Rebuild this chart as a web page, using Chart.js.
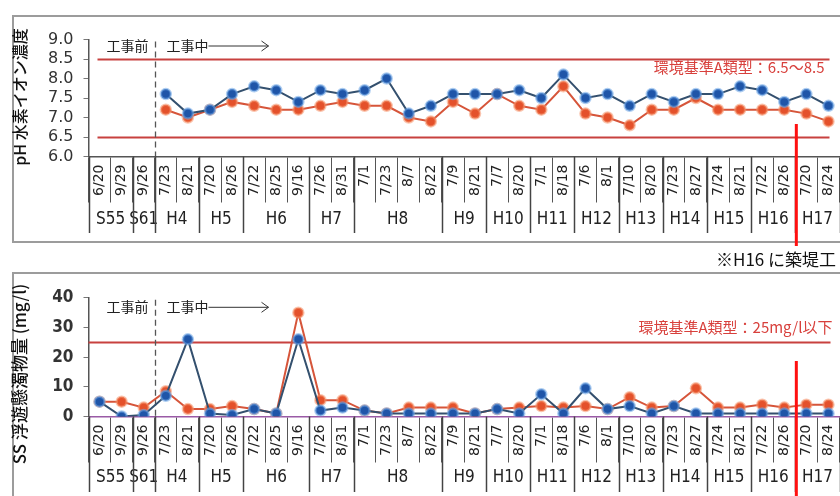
<!DOCTYPE html>
<html lang="ja">
<head>
<meta charset="utf-8">
<title>水質調査結果</title>
<script src="https://cdn.jsdelivr.net/npm/chart.js@4.4.1/dist/chart.umd.min.js"></script>
<style>
  html, body { margin: 0; padding: 0; background: #fff; width: 840px; height: 496px; overflow: hidden; }
  #wrap { position: relative; width: 840px; height: 496px; overflow: hidden; }
  .frame { position: absolute; border: 2px solid #9c9c9c; box-sizing: border-box; }
  canvas { position: absolute; left: 0; }
  #note { position: absolute; left: 716px; top: 246px; font: 17px "Noto Sans CJK JP", sans-serif; color: #111; white-space: nowrap; }
</style>
</head>
<body>
<div id="wrap">
  <div class="frame" style="left:12px; top:15px; width:860px; height:228px;"></div>
  <div class="frame" style="left:12px; top:272px; width:860px; height:260px;"></div>
  <canvas id="phChart" width="847" height="246" style="top:0px;"></canvas>
  <canvas id="ssChart" width="847" height="238" style="top:258px;"></canvas>
  <div id="note">※H16 に築堤工</div>
</div>
<script>
// Survey dates (one category per survey)
const dates = ['6/20','9/29','9/26','7/23','8/21','7/20','8/26','7/22','8/25','9/16',
               '7/26','8/31','7/1','7/23','8/7','8/22','7/9','8/21','7/7','8/20',
               '7/1','8/18','7/6','8/1','7/10','8/20','7/23','8/27','7/24','8/21',
               '7/22','8/26','7/20','8/24'];
// Survey years and how many surveys each one holds
const eraLabels = ['S55','S61','H4','H5','H6','H7','H8','H9','H10','H11','H12','H13','H14','H15','H16','H17'];
const eraSpans  = [2, 1, 2, 2, 3, 2, 4, 2, 2, 2, 2, 2, 2, 2, 2, 2];

// pH (blue / red series)
const phBlue = [null, null, null, 7.6, 7.1, 7.2, 7.6, 7.8, 7.7, 7.4,
                7.7, 7.6, 7.7, 8.0, 7.1, 7.3, 7.6, 7.6, 7.6, 7.7,
                7.5, 8.1, 7.5, 7.6, 7.3, 7.6, 7.4, 7.6, 7.6, 7.8,
                7.7, 7.4, 7.6, 7.3];
const phRed  = [null, null, null, 7.2, 7.0, 7.2, 7.4, 7.3, 7.2, 7.2,
                7.3, 7.4, 7.3, 7.3, 7.0, 6.9, 7.4, 7.1, 7.6, 7.3,
                7.2, 7.8, 7.1, 7.0, 6.8, 7.2, 7.2, 7.5, 7.2, 7.2,
                7.2, 7.2, 7.1, 6.9];

// SS suspended solids, mg/l (blue / red series)
const ssBlue = [5, 0, 0.5, 7, 26, 1, 0.5, 2.5, 1, 26,
                2, 3, 2, 1, 1, 1, 1, 1, 2.5, 1,
                7.5, 1, 9.5, 2.5, 3.5, 1, 3.5, 1, 1, 1,
                1, 1, 1, 1];
const ssRed  = [5, 5, 3, 8.5, 2.5, 2.5, 3.5, 2.5, 1, 35,
                5.5, 5.5, 2, 1, 3, 3, 3, 1, 2.5, 3,
                3.5, 3, 3.5, 2.5, 6.5, 3, 3.5, 9.5, 3, 3,
                4, 3, 4, 4];

// Environmental standard (class A)
const phStandard = [6.5, 8.5];
const ssStandard = [25];
const phStandardText = '環境基準A類型：6.5～8.5';
const ssStandardText = '環境基準A類型：25mg/l以下';

// Axis ranges
const phAxis = { min: 6, max: 9, step: 0.5 };
const ssAxis = { min: 0, max: 40, step: 10 };

// Index of first survey after construction began, and first survey after the embankment work
const workStartIndex = 3;
const embankmentIndex = 32;

const NARROW = '"Liberation Sans Narrow", "DejaVu Sans Condensed", "Liberation Sans", sans-serif';
const JP = '"Noto Sans CJK JP", sans-serif';
const VIEW_RIGHT = 840; // visible page width

// left edge of category i, from the category scale
function edgeX(xs, i) {
  const w = xs.getPixelForValue(1) - xs.getPixelForValue(0);
  return xs.getPixelForValue(i) - w / 2;
}

function panelPlugin(p) {
  return {
    id: 'panel_' + p.id,
    beforeDatasetsDraw(chart) {
      const ctx = chart.ctx, xs = chart.scales.x, ys = chart.scales.y, area = chart.chartArea;
      const right = Math.min(area.right, VIEW_RIGHT);
      ctx.save();
      // standard lines
      ctx.strokeStyle = '#c8413f';
      ctx.lineWidth = 2;
      p.standard.forEach(v => {
        const y = Math.round(ys.getPixelForValue(v)) + 0.5;
        ctx.beginPath();
        ctx.moveTo(area.left + p.stdInsetL, y);
        ctx.lineTo(right - p.stdInsetR, y);
        ctx.stroke();
      });
      // standard caption
      ctx.fillStyle = '#d8403c';
      ctx.font = '15px ' + JP;
      ctx.textAlign = 'right';
      ctx.textBaseline = 'middle';
      ctx.fillText(p.stdText, right - p.stdTextInset, ys.getPixelForValue(p.stdTextAt) + p.stdTextDy);

      // before / during construction divider
      const dx = Math.round(edgeX(xs, workStartIndex)) + 0.5;
      ctx.strokeStyle = '#555';
      ctx.lineWidth = 1.3;
      ctx.setLineDash([6, 4]);
      ctx.beginPath();
      ctx.moveTo(dx, area.top + 2);
      ctx.lineTo(dx, area.bottom);
      ctx.stroke();
      ctx.setLineDash([]);

      const ty = area.top + p.workTextDy;
      ctx.fillStyle = '#222';
      ctx.font = '14px ' + JP;
      ctx.textAlign = 'right';
      ctx.fillText('工事前', dx - 7, ty);
      ctx.textAlign = 'left';
      ctx.fillText('工事中', dx + 11, ty);
      const tw = ctx.measureText('工事中').width;
      const ax0 = dx + 11 + tw, ax1 = dx + 113;
      ctx.strokeStyle = '#333';
      ctx.lineWidth = 1;
      ctx.beginPath();
      ctx.moveTo(ax0, ty + 0.5);
      ctx.lineTo(ax1, ty + 0.5);
      ctx.moveTo(ax1 - 7, ty - 4.5);
      ctx.lineTo(ax1, ty + 0.5);
      ctx.lineTo(ax1 - 7, ty + 5.5);
      ctx.stroke();
      ctx.restore();
    },
    afterDraw(chart) {
      const ctx = chart.ctx, xs = chart.scales.x, area = chart.chartArea;
      ctx.save();
      // survey-year separators and labels
      ctx.strokeStyle = '#444';
      ctx.lineWidth = 1.5;
      ctx.fillStyle = '#222';
      ctx.font = '17px ' + NARROW;
      ctx.textAlign = 'center';
      ctx.textBaseline = 'middle';
      let start = 0;
      const edges = [0];
      eraSpans.forEach((n, k) => {
        const x0 = edgeX(xs, start), x1 = edgeX(xs, start + n);
        ctx.fillText(eraLabels[k], (x0 + x1) / 2, p.eraLabelY);
        start += n;
        edges.push(start);
      });
      edges.forEach(i => {
        const x = Math.round(edgeX(xs, i)) + 0.5;
        ctx.beginPath();
        ctx.moveTo(x, area.bottom);
        ctx.lineTo(x, p.eraLineEnd);
        ctx.stroke();
      });

      // y-axis title
      ctx.save();
      ctx.translate(p.titleX, p.titleY);
      ctx.rotate(-Math.PI / 2);
      ctx.fillStyle = '#111';
      ctx.font = '500 ' + p.titleSize + 'px ' + JP;
      ctx.textAlign = 'center';
      ctx.textBaseline = 'middle';
      ctx.fillText(p.title, 0, 0);
      ctx.restore();

      // embankment marker
      const mx = edgeX(xs, embankmentIndex) + 1;
      ctx.strokeStyle = '#ff1010';
      ctx.lineWidth = 3;
      ctx.beginPath();
      ctx.moveTo(mx, p.markTop);
      ctx.lineTo(mx, chart.height);
      ctx.stroke();
      ctx.restore();
    }
  };
}

function makeChart(p) {
  return new Chart(document.getElementById(p.id), {
    type: 'line',
    data: {
      labels: dates,
      datasets: [
        { data: p.blue, borderColor: '#34506e', borderWidth: 2,
          pointBackgroundColor: '#1f55a8', pointBorderColor: 'rgba(110,165,230,0.55)',
          pointBorderWidth: 2.5, pointRadius: 5, tension: 0 },
        { data: p.red, borderColor: '#d6553a', borderWidth: 2,
          pointBackgroundColor: '#e4512b', pointBorderColor: 'rgba(245,150,110,0.55)',
          pointBorderWidth: 2.5, pointRadius: 5, tension: 0 }
      ]
    },
    options: {
      responsive: false,
      animation: false,
      devicePixelRatio: 1,
      layout: { padding: { top: p.padTop, left: 0, right: 0, bottom: 0 } },
      plugins: { legend: { display: false }, tooltip: { enabled: false } },
      scales: {
        x: {
          type: 'category',
          offset: true,
          grid: { offset: true, drawOnChartArea: false, tickLength: 46, color: '#555', lineWidth: 1 },
          border: { color: p.axisColor, width: 1.5 },
          ticks: { autoSkip: false, minRotation: 90, maxRotation: 90, padding: -38,
                   font: { family: 'DejaVu Sans', size: 14 }, color: '#222' },
          afterFit(s) { s.height = p.xHeight; }
        },
        y: {
          min: p.axis.min, max: p.axis.max,
          ticks: { stepSize: p.axis.step, padding: 10, color: '#333', autoSkip: false,
                   font: p.tickFont,
                   callback: v => p.fmt(v) },
          grid: { drawOnChartArea: false, tickLength: 5, color: '#777' },
          border: { color: '#555', width: 1.5 },
          afterFit(s) { s.width = 88.5; }
        }
      }
    },
    plugins: [panelPlugin(p)]
  });
}

makeChart({
  id: 'phChart', blue: phBlue, red: phRed, axis: phAxis,
  fmt: v => v.toFixed(1), tickFont: { family: 'DejaVu Sans', size: 16, lineHeight: 1 },
  padTop: 39.5, xHeight: 89.5, axisColor: '#555',
  standard: phStandard, stdInsetL: 9, stdInsetR: 10,
  stdText: phStandardText, stdTextAt: phStandard[1], stdTextDy: 8, stdTextInset: 15,
  workTextDy: 6, eraLabelY: 220, eraLineEnd: 233,
  title: 'pH 水素イオン濃度', titleSize: 16, titleX: 20, titleY: 97, markTop: 124
});

makeChart({
  id: 'ssChart', blue: ssBlue, red: ssRed, axis: ssAxis,
  fmt: v => String(v), tickFont: { family: NARROW, size: 17, weight: 'bold', lineHeight: 1 },
  padTop: 39.8, xHeight: 79.5, axisColor: '#9a5aa6',
  standard: ssStandard, stdInsetL: 0, stdInsetR: 9,
  stdText: ssStandardText, stdTextAt: ssStandard[0], stdTextDy: -15, stdTextInset: 7,
  workTextDy: 9, eraLabelY: 220, eraLineEnd: 234,
  title: 'SS 浮遊懸濁物量 (mg/l)', titleSize: 17, titleX: 20, titleY: 116, markTop: 103
});
</script>
</body>
</html>
